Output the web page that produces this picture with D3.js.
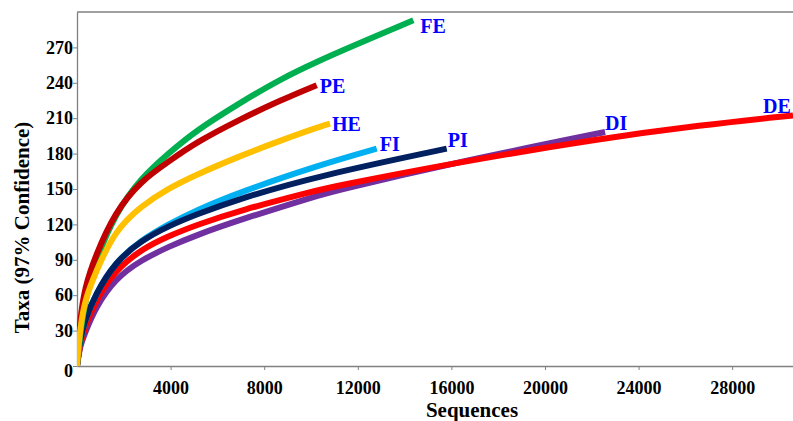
<!DOCTYPE html>
<html>
<head>
<meta charset="utf-8">
<script src="https://cdn.jsdelivr.net/npm/d3@7"></script>
<style>
  html, body { margin: 0; padding: 0; background: #fff; }
  svg { display: block; }
</style>
</head>
<body>
<svg id="chart" width="793" height="421"></svg>
<script>
// ---- data ----
const seriesNames = ["DI", "DE", "FI", "PI", "FE", "PE", "HE"];
const DI = [[0,0],[128,17],[342,28],[769,48.8],[1624,74],[2765,90],[3902,101],[5043,110.5],[6967,124],[10386,145],[10813,147.5],[15940,171.5],[22570,198.3]];
const DE = [[0,0],[128,19],[342,33],[769,54.4],[1624,81],[2765,99],[3902,110],[5043,119],[6967,132],[10386,149.5],[10813,151.5],[15940,171.5],[22350,192.7],[26630,204],[30600,212.4]];
const FI = [[0,0],[128,22],[342,39],[769,60],[1624,88],[2765,107],[3902,120],[5043,131.5],[6967,147.5],[10386,170.5],[12810,184.2]];
const PI = [[0,0],[128,23],[342,39],[769,60],[1624,88],[2765,106.5],[3902,118.5],[5043,128],[6967,142],[10386,161.5],[15800,184.2]];
const FE = [[0,0],[150,30],[342,55],[769,88],[1624,129],[2765,160],[3902,180],[5043,199],[6967,223],[8677,243],[10386,259],[11530,269],[14375,293]];
const PE = [[0,0],[128,40],[342,67],[769,92.5],[1624,130.6],[2765,157.4],[3902,173],[5043,189],[6967,209],[8677,225],[10245,238]];
const HE = [[0,0],[128,32],[342,56],[769,78.4],[1624,115],[2765,136],[3902,150.4],[5043,161.7],[6967,178],[8677,191],[10386,203],[10813,205.4]];
const xTicks = [4000, 8000, 12000, 16000, 20000, 24000, 28000];
const yTicks = [0, 30, 60, 90, 120, 150, 180, 210, 240, 270];
const xTitle = "Sequences";
const yTitle = "Taxa (97% Confidence)";

// ---- styling ----
const seriesData = {DI, DE, FI, PI, FE, PE, HE};
const colors = {DI:"#7030A0", DE:"#FF0000", FI:"#00B0F0", PI:"#002060", FE:"#00B050", PE:"#C00000", HE:"#FFC000"};
const labelOffset = {FE:[7,13], PE:[3,8], HE:[2,7], FI:[3,2], PI:[1,-2], DI:[0,-2], DE:[-30,-2]};

const mLeft = 77, mTop = 12, mBottom = 366, mRight = 793;

const svg = d3.select("#chart");
const x = d3.scaleLinear().domain([0, 30600]).range([mLeft, mRight]);
const y = d3.scaleLinear().domain([0, 300]).range([mBottom, mTop]);

const font = "'Liberation Serif', 'Times New Roman', serif";
const axisColor = "#808080";

svg.append("defs").append("clipPath").attr("id", "clip")
  .append("rect").attr("x", mLeft).attr("y", mTop).attr("width", mRight - mLeft).attr("height", mBottom - mTop);

// frame top line
svg.append("line").attr("x1", mLeft).attr("x2", mRight).attr("y1", mTop).attr("y2", mTop)
  .attr("stroke", axisColor).attr("stroke-width", 1.3);

// x axis
const xAxis = svg.append("g").attr("transform", `translate(0,${mBottom})`)
  .call(d3.axisBottom(x).tickValues(xTicks).tickSize(4).tickSizeOuter(0).tickFormat(d3.format("d")));
xAxis.select(".domain").attr("stroke", axisColor).attr("stroke-width", 1.3);
xAxis.selectAll(".tick line").attr("stroke", axisColor);
xAxis.selectAll("text").attr("font-family", font).attr("font-weight", "bold").attr("font-size", 18)
  .attr("fill", "#000").attr("dy", "1.15em");

// y axis
const yAxis = svg.append("g").attr("transform", `translate(${mLeft},0)`)
  .call(d3.axisLeft(y).tickValues(yTicks).tickSize(4).tickSizeOuter(0));
yAxis.select(".domain").attr("stroke", axisColor).attr("stroke-width", 1.3);
yAxis.selectAll(".tick line").attr("stroke", axisColor);
yAxis.selectAll("text").attr("font-family", font).attr("font-weight", "bold").attr("font-size", 18)
  .attr("fill", "#000").attr("x", -4)
  .attr("dy", d => d === 0 ? "0.6em" : "0.32em");

// axis titles
svg.append("text").attr("x", 472).attr("y", 417).attr("text-anchor", "middle")
  .attr("font-family", font).attr("font-weight", "bold").attr("font-size", 21).text(xTitle);
svg.append("text").attr("transform", `translate(29,${(118+337)/2}) rotate(-90)`).attr("text-anchor", "middle")
  .attr("font-family", font).attr("font-weight", "bold").attr("font-size", 21).text(yTitle);

// curves
const line = d3.line().x(d => x(d[0])).y(d => y(d[1])).curve(d3.curveBasis);
const gLines = svg.append("g").attr("clip-path", "url(#clip)");
seriesNames.forEach(name => {
  gLines.append("path").datum(seriesData[name])
    .attr("fill", "none").attr("stroke", colors[name]).attr("stroke-width", 6)
    .attr("d", line);
});

// labels
seriesNames.forEach(name => {
  const d = seriesData[name];
  const last = d[d.length - 1];
  const off = labelOffset[name];
  svg.append("text")
    .attr("x", Math.min(x(last[0]), mRight) + off[0])
    .attr("y", y(last[1]) + off[1])
    .attr("font-family", font).attr("font-weight", "bold").attr("font-size", 20)
    .attr("fill", "#0000FF").text(name);
});
</script>
</body>
</html>
